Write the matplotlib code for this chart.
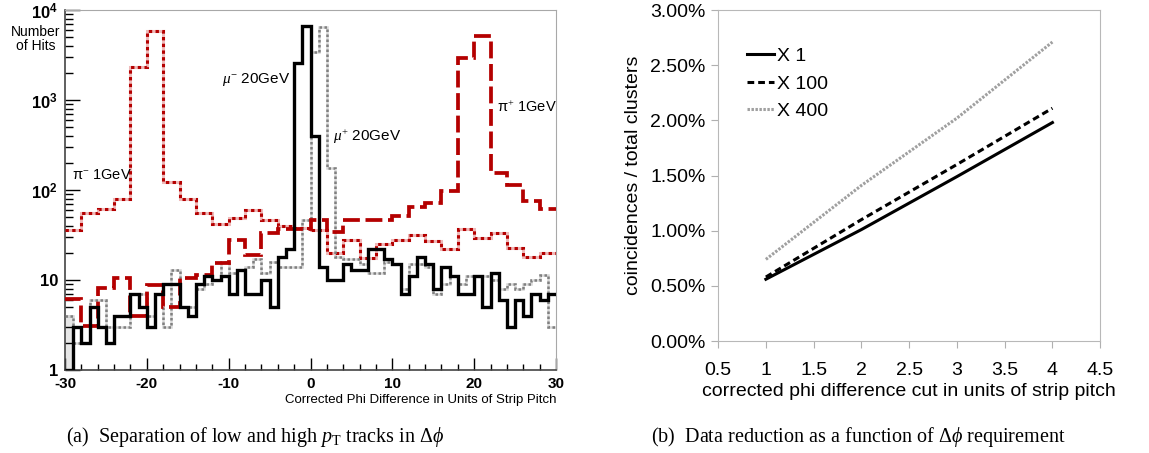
import numpy as np
import matplotlib
matplotlib.use('Agg')
import matplotlib.pyplot as plt
from matplotlib.ticker import PercentFormatter, FixedLocator, NullFormatter, FuncFormatter

plt.rcParams['font.family'] = ['Liberation Sans', 'DejaVu Sans']
plt.rcParams['mathtext.fontset'] = 'custom'
plt.rcParams['mathtext.rm'] = 'Liberation Serif'
plt.rcParams['mathtext.it'] = 'Liberation Serif:italic'
plt.rcParams['mathtext.bf'] = 'Liberation Sans:bold'

# ---- left panel: hits per bin (bin width 1 for muons, 2 for pions) ----
edges_mu = np.arange(-30, 31, 1)
edges_pi = np.arange(-30, 31, 2)

mu_minus = [1, 3, 2, 5, 3, 2, 4, 4, 7, 5,
            3, 7, 9, 9, 5, 4, 9, 11, 10, 11,
            7, 13, 7, 7, 10, 5, 18, 22, 2570, 6650,
            400, 14, 10, 10, 15, 13, 13, 22, 22, 17,
            15, 7, 11, 18, 15, 8, 14, 11, 7, 7,
            11, 5, 12, 6, 3, 6, 4, 7, 6, 7]

mu_plus = [4, 2, 2, 6, 6, 3, 3, 3, 7, 7,
           4, 7, 3, 13, 5, 5, 8, 9, 10, 16,
           12, 13, 14, 17, 12, 16, 14, 14, 14, 47,
           3400, 6400, 175, 18, 17, 17, 15, 12, 12, 16,
           15, 8, 15, 15, 14, 7, 9, 11, 9, 11,
           11, 11, 10, 8, 9, 8, 9, 10, 11.5, 3]

pi_minus = [36, 55, 62, 79, 2350, 5800, 122, 79, 56, 42,
            49, 60, 47, 40, 38, 36, 20, 28, 17.5, 25,
            28, 32, 27, 22, 36.6, 29, 33, 22.5, 18, 20]

pi_plus = [6.2, 3.1, 8.1, 10.4, 4, 8.9, 5, 10.4, 11.3, 15.3,
           27.5, 19, 33, 36.6, 36.6, 47, 34, 47, 47, 47,
           51, 64, 72, 98, 2960, 5100, 153, 115, 75, 61]

# ---- right panel: coincidence fraction (%) ----
cut = [1, 2, 3, 4]
x1 = [0.56, 1.01, 1.49, 1.98]
x100 = [0.58, 1.10, 1.60, 2.11]
x400 = [0.74, 1.41, 2.02, 2.71]

fig = plt.figure(figsize=(11.49, 4.53), dpi=100)
ax1 = fig.add_axes([0.0566, 0.1832, 0.4273, 0.7947])
ax2 = fig.add_axes([0.625, 0.2472, 0.3325, 0.7307])

dark_red = '#b40000'
# first grey bin shaded as in the original
ax1.stairs(mu_plus[:1], edges_mu[:2], baseline=1, fill=True, color='#e6e6e6', zorder=1)
ax1.stairs(pi_minus, edges_pi, baseline=None, color='#efb9b9', lw=2.2, zorder=2)
ax1.stairs(pi_minus, edges_pi, baseline=None, color=dark_red, lw=2.2,
           linestyle=(0, (1.1, 1.1)), zorder=3)
ax1.stairs(mu_plus, edges_mu, baseline=None, color='#d6d6d6', lw=1.8, zorder=2)
ax1.stairs(mu_plus, edges_mu, baseline=None, color='#808080', lw=1.8,
           linestyle=(0, (1, 1)), zorder=3)
ax1.stairs(pi_plus, edges_pi, baseline=None, color=dark_red, lw=2.7,
           linestyle=(0, (4.5, 1.5)), zorder=4)
ax1.stairs(mu_minus, edges_mu, baseline=None, color='black', lw=2.4, zorder=5)

ax1.set_yscale('log')
ax1.set_xlim(-30, 30)
ax1.set_ylim(1, 10000)
ax1.set_xticks(np.arange(-30, 31, 10))
ax1.xaxis.set_minor_locator(FixedLocator(np.arange(-30, 31, 2)))
ax1.set_xticklabels([str(v) for v in range(-30, 31, 10)], fontweight='bold', fontsize=11)
ax1.set_yticks([1, 10, 100, 1000, 10000])
ax1.set_yticklabels(['1', '10', r'$\mathbf{10^{2}}$', r'$\mathbf{10^{3}}$', r'$\mathbf{10^{4}}$'],
                    fontweight='bold', fontsize=12)
ax1.yaxis.set_minor_formatter(NullFormatter())
ax1.tick_params(which='major', direction='in', length=11, width=1, pad=5)
ax1.tick_params(which='minor', direction='in', length=5.5, width=1)
ax1.tick_params(axis='x', which='major', length=9, pad=5)
ax1.tick_params(axis='x', which='minor', length=4)
for s in ['top', 'right']:
    ax1.spines[s].set_color('#a8a8a8')
for s in ['left', 'bottom']:
    ax1.spines[s].set_color('#444444')
    ax1.spines[s].set_linewidth(1.2)
ax1.set_xlabel('Corrected Phi Difference in Units of Strip Pitch', loc='right',
               fontsize=9.5, labelpad=2)
fig.text(0.031, 0.915, 'Number\nof Hits', ha='center', va='center', fontsize=10,
         linespacing=1.0)

ax1.text(-29.2, 148, r'π$^{-}$ 1GeV', fontsize=10.5, va='center')
ax1.text(-10.8, 1700, r'$\mu^{-}$ 20GeV', fontsize=11, va='center')
ax1.text(2.7, 390, r'$\mu^{+}$ 20GeV', fontsize=11, va='center')
ax1.text(22.8, 820, r'π$^{+}$ 1GeV', fontsize=10.5, va='center')

# right panel
ax2.plot(cut, x1, color='black', lw=2.2, label='X 1')
ax2.plot(cut, x100, color='black', lw=2.2, linestyle=(0, (2.2, 1.3)), label='X 100')
ax2.plot(cut, x400, color='#a0a0a0', lw=2.2, linestyle=(0, (0.8, 0.5)), label='X 400')
ax2.set_xlim(0.5, 4.5)
ax2.set_ylim(0, 3)
ax2.set_xticks(np.arange(0.5, 4.6, 0.5))
ax2.xaxis.set_major_formatter(FuncFormatter(lambda v, p: '%g' % v))
ax2.set_yticks(np.arange(0, 3.01, 0.5))
ax2.yaxis.set_major_formatter(PercentFormatter(xmax=100, decimals=2))
ax2.tick_params(direction='out', length=5, color='#b0b0b0', labelsize=14, pad=4)
ax2.tick_params(axis='x', pad=10)
for s in ax2.spines.values():
    s.set_color('#b8b8b8')
ax2.set_ylabel('coincidences / total clusters', fontsize=14, labelpad=6)
ax2.set_xlabel('corrected phi difference cut in units of strip pitch', fontsize=14, labelpad=3)
ax2.legend(loc='upper left', bbox_to_anchor=(0.055, 0.91), frameon=False, fontsize=14,
           handlelength=1.4, handletextpad=0.15, labelspacing=0.5, borderaxespad=0)

# captions
fig.text(0.222, 0.036, r'(a)  Separation of low and high $p_{\mathrm{T}}$ tracks in $\Delta\phi$',
         ha='center', va='center', fontsize=14.5, family='Liberation Serif')
fig.text(0.747, 0.036, r'(b)  Data reduction as a function of $\Delta\phi$ requirement',
         ha='center', va='center', fontsize=14.5, family='Liberation Serif')

fig.savefig('out.png', dpi=100)
